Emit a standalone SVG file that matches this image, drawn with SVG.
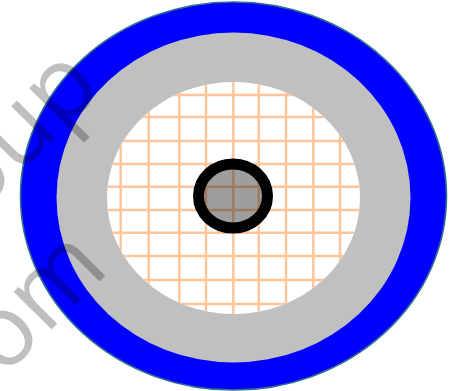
<svg xmlns="http://www.w3.org/2000/svg" width="455" height="391" viewBox="0 0 455 391">
<style>
.grid line{stroke:#ffc598;stroke-width:2.4}
.wm{font-family:"Open Sans","Liberation Sans",sans-serif;font-size:100px;fill:#000;fill-opacity:.25}
</style>
<defs><clipPath id="c"><ellipse cx="233.5" cy="198" rx="126.5" ry="116"/></clipPath>
<filter id="soft" x="-5%" y="-5%" width="110%" height="110%"><feGaussianBlur stdDeviation="0.5"/></filter></defs>
<rect width="455" height="391" fill="#fff"/>
<g filter="url(#soft)">
<g id="outer"><ellipse cx="233.5" cy="196" rx="213" ry="194" fill="#0000ff" stroke="#2f6f8f" stroke-width="1.6"/></g>
<g id="middle"><ellipse cx="233.5" cy="197.5" rx="177" ry="165" fill="#c0c0c0"/></g>
<g id="inner"><ellipse cx="233.5" cy="198" rx="126.5" ry="116" fill="#fff"/></g>
<g id="grid" class="grid" clip-path="url(#c)">
<line x1="120.7" y1="70" x2="120.7" y2="330"/><line x1="148.7" y1="70" x2="148.7" y2="330"/><line x1="179.3" y1="70" x2="179.3" y2="330"/><line x1="206" y1="70" x2="206" y2="330"/><line x1="233.3" y1="70" x2="233.3" y2="330"/><line x1="258.7" y1="70" x2="258.7" y2="330"/><line x1="286" y1="70" x2="286" y2="330"/><line x1="313.3" y1="70" x2="313.3" y2="330"/><line x1="340" y1="70" x2="340" y2="330"/>
<line x1="100" y1="95" x2="370" y2="95"/><line x1="100" y1="117" x2="370" y2="117"/><line x1="100" y1="141" x2="370" y2="141"/><line x1="100" y1="164" x2="370" y2="164"/><line x1="100" y1="186.7" x2="370" y2="186.7"/><line x1="100" y1="210" x2="370" y2="210"/><line x1="100" y1="232.7" x2="370" y2="232.7"/><line x1="100" y1="256" x2="370" y2="256"/><line x1="100" y1="280" x2="370" y2="280"/><line x1="100" y1="304" x2="370" y2="304"/>
</g>
<g id="core"><ellipse cx="233" cy="196" rx="34.5" ry="32" fill="#000" fill-opacity=".38" stroke="#000" stroke-width="11"/></g>
</g>
<text class="wm" transform="translate(-25,218) rotate(-45)">oup</text>
<text class="wm" transform="translate(3,378) rotate(-45)">om</text>
</svg>
